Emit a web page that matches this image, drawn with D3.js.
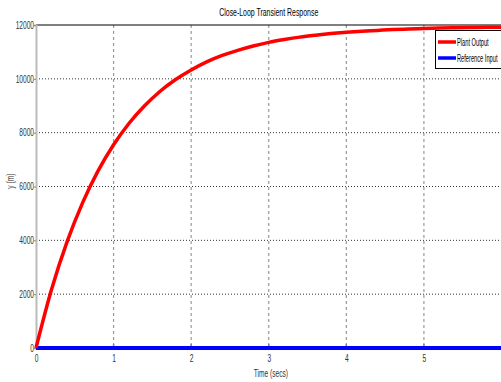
<!DOCTYPE html>
<html>
<head>
<meta charset="utf-8">
<script src="https://cdn.jsdelivr.net/npm/d3@7"></script>
<style>
body { margin: 0; background: #fff; }
text { font-family: "Liberation Sans", Arial, sans-serif; }
</style>
</head>
<body>
<div id="chart"></div>
<script>
// size of the picture
var width = 501;
var height = 382;
var margin = { top: 25, right: 0, bottom: 34, left: 36 };

// data
var time = [0, 0.2, 0.4, 0.6, 0.8, 1.0, 1.2, 1.4, 1.6, 1.8, 2.0, 2.2, 2.4, 2.6, 2.8, 3.0,
	3.2, 3.4, 3.6, 3.8, 4.0, 4.2, 4.4, 4.6, 4.8, 5.0, 5.2, 5.4, 5.6, 5.8, 6.0];
var plantOutput = [0, 2170, 3940, 5390, 6580, 7550, 8350, 9000, 9540, 9975, 10330, 10630, 10870,
	11060, 11220, 11355, 11460, 11550, 11620, 11680, 11730, 11770, 11800, 11830, 11850, 11870,
	11885, 11895, 11905, 11915, 11920];
var referenceInput = [0, 0];
var referenceTime = [0, 6];
var xTicks = [0, 1, 2, 3, 4, 5];
var yTicks = [0, 2000, 4000, 6000, 8000, 10000, 12000];
var seriesNames = ["Plant Output", "Reference Input"];
var seriesColors = ["#ff0000", "#0000ff"];

// the original uses a narrow font, squeeze the text to match
function narrow(sel, squeeze) {
	squeeze = squeeze || 0.66;
	sel.each(function () {
		var len = this.getComputedTextLength();
		d3.select(this)
			.attr("textLength", len * squeeze)
			.attr("lengthAdjust", "spacingAndGlyphs");
	});
}

var svg = d3.select("#chart")
	.append("svg")
	.attr("width", width)
	.attr("height", height);

var x = d3.scaleLinear().domain([0, 6]).range([margin.left, width - margin.right + 0.5]);
var y = d3.scaleLinear().domain([0, 12000]).range([height - margin.bottom, margin.top]);

// grid lines
svg.append("g")
	.selectAll("line")
	.data(xTicks.slice(1))
	.enter()
	.append("line")
	.attr("x1", d => x(d)).attr("x2", d => x(d))
	.attr("y1", y(12000)).attr("y2", y(0))
	.style("stroke", "#999")
	.style("stroke-width", 1.2)
	.style("stroke-dasharray", "3,3");

svg.append("g")
	.selectAll("line")
	.data(yTicks.slice(1, -1))
	.enter()
	.append("line")
	.attr("x1", x(0)).attr("x2", width)
	.attr("y1", d => y(d)).attr("y2", d => y(d))
	.style("stroke", "#333")
	.style("stroke-width", 1)
	.style("stroke-dasharray", "1,2");

// top border
svg.append("line")
	.attr("x1", x(0)).attr("x2", width)
	.attr("y1", y(12000)).attr("y2", y(12000))
	.style("stroke", "#000")
	.style("stroke-width", 1.2);

// left axis
var yAxis = d3.axisLeft(y).tickValues(yTicks).tickSize(2).tickFormat(d3.format("d"));
var gy = svg.append("g")
	.attr("transform", "translate(" + x(0) + ",0)")
	.call(yAxis);
gy.select(".domain").style("stroke", "#bbb").style("stroke-width", 2);
gy.selectAll(".tick line").style("stroke", "#888");
gy.selectAll("text").style("font-size", "10px").style("fill", "#333").attr("x", -2).call(narrow);

// bottom axis
var xAxis = d3.axisBottom(x).tickValues(xTicks).tickSize(0).tickFormat(d3.format("d"));
var gx = svg.append("g")
	.attr("transform", "translate(0," + y(0) + ")")
	.call(xAxis);
gx.select(".domain").style("stroke", "#bbb").style("stroke-width", 2);
gx.selectAll("text").style("font-size", "10px").style("fill", "#333").attr("y", 7).call(narrow);

// x tick marks (upwards)
svg.append("g")
	.selectAll("line")
	.data(xTicks)
	.enter()
	.append("line")
	.attr("x1", d => x(d)).attr("x2", d => x(d))
	.attr("y1", y(0)).attr("y2", y(0) - 4)
	.style("stroke", "#888")
	.style("stroke-width", 1.5);

// lines
var line = d3.line()
	.x(d => x(d[0]))
	.y(d => y(d[1]));

svg.append("path")
	.datum(referenceTime.map((t, i) => [t, referenceInput[i]]))
	.attr("d", line)
	.style("fill", "none")
	.style("stroke", seriesColors[1])
	.style("stroke-width", 4);

svg.append("path")
	.datum(time.map((t, i) => [t, plantOutput[i]]))
	.attr("d", line.curve(d3.curveMonotoneX))
	.style("fill", "none")
	.style("stroke", seriesColors[0])
	.style("stroke-width", 3.5);

// legend
var legend = svg.append("g").attr("transform", "translate(435,30)");
legend.append("rect")
	.attr("x", 0.5).attr("y", 0.5)
	.attr("width", 70).attr("height", 38)
	.style("fill", "#fff")
	.style("stroke", "#000")
	.style("stroke-width", 1);
seriesNames.forEach(function (name, i) {
	var ly = 12 + i * 16;
	legend.append("line")
		.attr("x1", 3).attr("x2", 21)
		.attr("y1", ly).attr("y2", ly)
		.style("stroke", seriesColors[i])
		.style("stroke-width", 3.5);
	legend.append("text")
		.attr("transform", "translate(22," + (ly + 3.5) + ") scale(0.57,1)")
		.style("font-size", "10px")
		.style("fill", "#000")
		.text(name);
});

// title and labels
svg.append("text")
	.attr("x", x(3)).attr("y", 16)
	.attr("text-anchor", "middle")
	.style("font-size", "10.5px")
	.text("Close-Loop Transient Response")
	.call(narrow);

svg.append("text")
	.attr("x", x(3) - 15).attr("y", 377)
	.style("font-size", "10px")
	.style("fill", "#333")
	.text("Time (secs)")
	.call(narrow);

svg.append("text")
	.attr("transform", "translate(14," + y(6200) + ") rotate(-90)")
	.attr("text-anchor", "middle")
	.style("font-size", "10px")
	.style("fill", "#333")
	.text("y  (m)")
	.call(narrow);
</script>
</body>
</html>
